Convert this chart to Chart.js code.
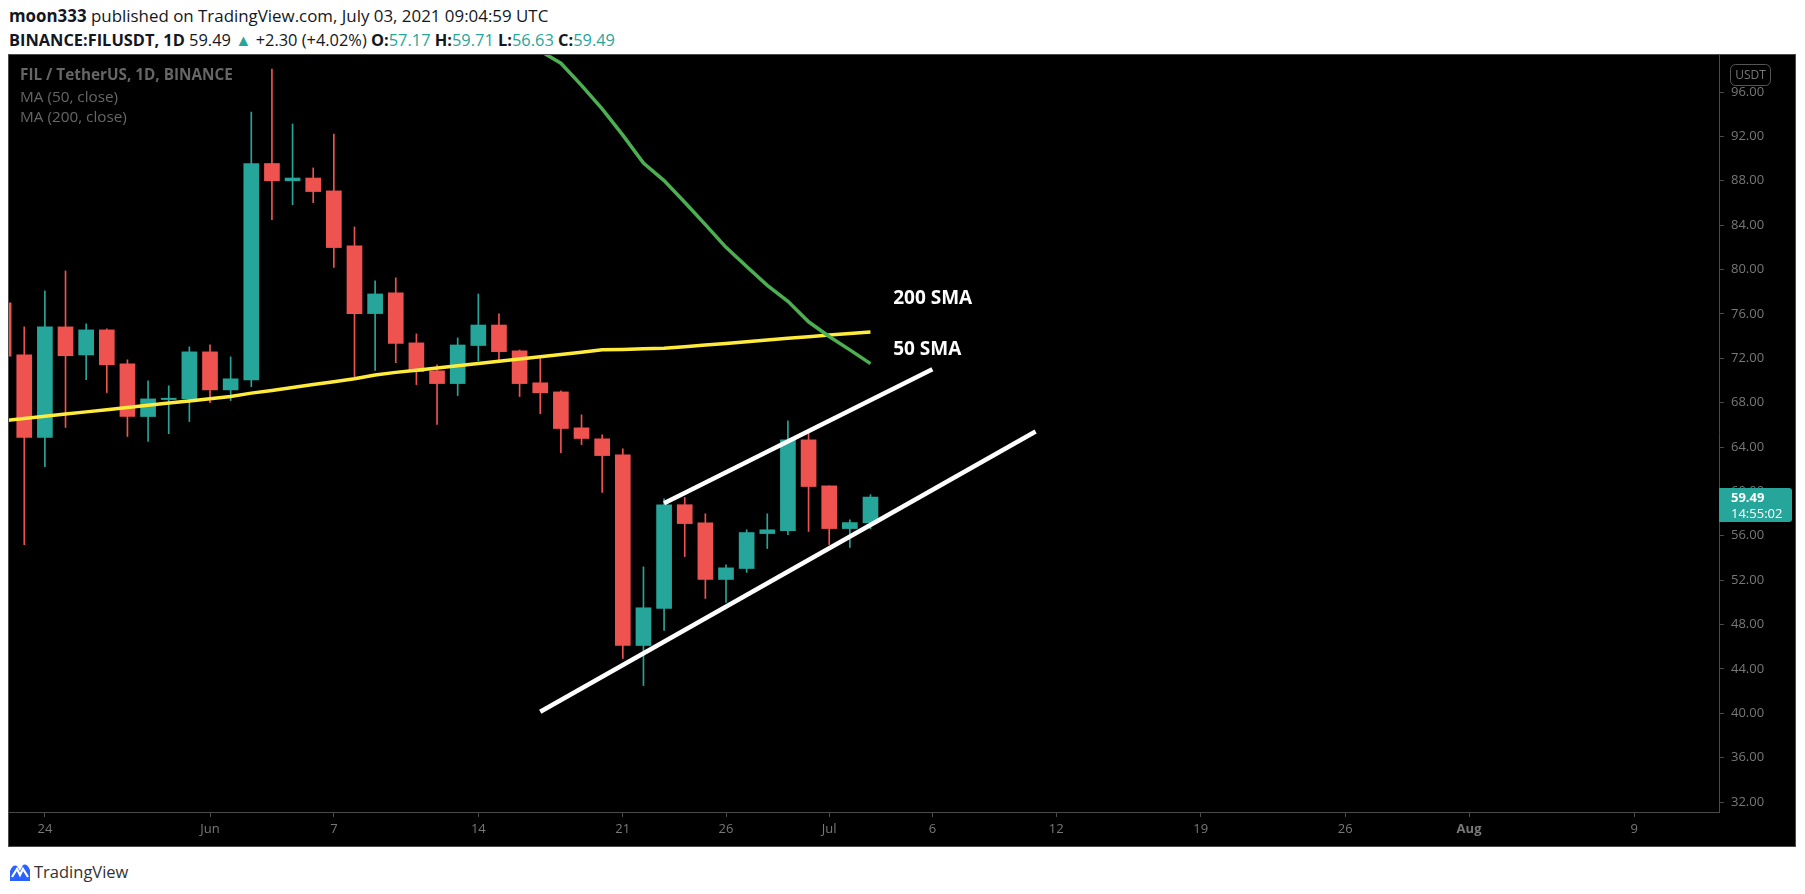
<!DOCTYPE html>
<html>
<head>
<meta charset="utf-8">
<script src="https://cdn.jsdelivr.net/npm/chart.js@4.4.1/dist/chart.umd.min.js"></script>
<style>
  body { margin: 0; background: #fff; width: 1805px; height: 894px; position: relative; overflow: hidden; font-family: 'Open Sans', sans-serif; }
  .hdr { position: absolute; left: 9px; color: #131722; white-space: nowrap; }
  .hdr b { font-weight: 700; }
  .up { color: #26a69a; }
  #wrap { position: absolute; left: 8px; top: 54px; width: 1788px; height: 793px; }
  #foot { position: absolute; left: 9px; top: 860px; display: flex; align-items: center; font-size: 16.5px; color: #333; }
</style>
</head>
<body>
<div class="hdr" style="top:4px;font-size:16.9px"><b>moon333</b> published on TradingView.com, July 03, 2021 09:04:59 UTC</div>
<div class="hdr" style="top:28px;font-size:16.4px"><b>BINANCE:FILUSDT, 1D</b> 59.49 <span class="up">&#9650;</span> +2.30 (+4.02%) <b>O:</b><span class="up">57.17</span> <b>H:</b><span class="up">59.71</span> <b>L:</b><span class="up">56.63</span> <b>C:</b><span class="up">59.49</span></div>
<div id="wrap"><canvas id="chart" width="1788" height="793"></canvas></div>
<div id="foot">
  <svg width="22" height="20" viewBox="0 0 22 20"><path d="M1 19 L1 9 Q4 2 8 4 L11 9 L14 3 Q18 1 21 8 L21 19 Z" fill="#2962ff"/><path d="M3 15 L8 7 L11 13 L14 7 L19 15" stroke="#fff" stroke-width="2.2" fill="none"/></svg>
  <span style="margin-left:3px">TradingView</span>
</div>
<script>
// days counted from Jun 1 2021
const days = [-10, -9, -8, -7, -6, -5, -4, -3, -2, -1, 0, 1, 2, 3, 4, 5, 6, 7, 8, 9, 10,
  11, 12, 13, 14, 15, 16, 17, 18, 19, 20, 21, 22, 23, 24, 25, 26, 27, 28, 29, 30, 31, 32];
const opens = [77.0, 72.31, 64.86, 74.83, 72.3, 74.56, 71.5, 66.75, 68.28, 68.34, 72.58, 69.15, 70.06, 89.56, 88.0, 88.25, 87.09, 82.13, 76.03, 77.9, 73.39,
  70.87, 69.72, 73.15, 75.0, 72.67, 69.79, 68.97, 65.73, 64.74, 63.3, 46.11, 49.45, 58.8, 57.17, 52.06, 53.05, 56.2, 56.47, 64.65, 60.5, 56.65, 57.17];
const highs = [77.8, 74.83, 78.08, 79.88, 75.1, 74.65, 71.86, 69.97, 69.52, 73.03, 73.21, 72.13, 94.2, 98.08, 93.12, 89.16, 92.2, 83.84, 78.98, 79.25, 74.2,
  71.4, 73.84, 77.8, 76.0, 72.75, 72.2, 69.06, 66.9, 65.1, 63.84, 53.2, 59.33, 59.45, 57.98, 53.38, 56.54, 57.98, 66.36, 65.46, 60.5, 57.44, 59.71];
const lows = [70.5, 55.2, 62.24, 65.76, 70.08, 68.91, 64.95, 64.5, 65.2, 66.3, 68.0, 68.19, 69.45, 84.5, 85.85, 86.03, 80.18, 70.35, 70.9, 71.6, 69.63,
  66.03, 68.64, 71.77, 71.6, 68.55, 67.0, 63.5, 64.22, 59.9, 44.94, 42.5, 47.46, 54.13, 50.35, 49.99, 52.7, 54.85, 56.11, 56.39, 55.21, 54.94, 56.63];
const closes = [72.2, 64.86, 74.83, 72.23, 74.56, 71.42, 66.75, 68.34, 68.4, 72.58, 69.15, 70.15, 89.56, 88.0, 88.25, 87.03, 81.98, 76.03, 77.8, 73.33, 70.8,
  69.72, 73.2, 75.0, 72.6, 69.72, 68.9, 65.67, 64.77, 63.23, 46.11, 49.51, 58.8, 57.1, 52.06, 53.11, 56.29, 56.54, 64.65, 60.44, 56.65, 57.19, 59.49];

const ma200 = [66.38, 66.57, 66.77, 66.97, 67.17, 67.37, 67.57, 67.77, 67.97, 68.16, 68.36, 68.56, 68.86, 69.1, 69.37, 69.63, 69.89, 70.15, 70.5, 70.73, 70.93,
  71.13, 71.33, 71.53, 71.73, 71.93, 72.13, 72.34, 72.55, 72.76, 72.8, 72.85, 72.9, 73.03, 73.19, 73.34, 73.5, 73.65, 73.8, 73.95, 74.1, 74.24, 74.38];
const ma50Days = [16, 17, 18, 19, 20, 21, 22, 23, 24, 25, 26, 27, 28, 29, 30, 31, 32];
const ma50 = [99.7, 98.6, 96.6, 94.48, 92.12, 89.6, 88.02, 86.06, 84.05, 82.0, 80.27, 78.57, 77.14, 75.29, 73.97, 72.76, 71.52];

// hand drawn channel
const upperLine = [[22, 58.94], [35, 71.02]];
const lowerLine = [[16, 40.14], [40, 65.4]];
const notes = [['200 SMA', 33.1, 77.42], ['50 SMA', 33.1, 72.82]];

const tickDays = [-8, 0, 6, 13, 20, 25, 30, 35, 41, 48, 55, 61, 69];
const tickLabels = ['24', 'Jun', '7', '14', '21', '26', 'Jul', '6', '12', '19', '26', 'Aug', '9'];
const priceTicks = [32, 36, 40, 44, 48, 52, 56, 60, 64, 68, 72, 76, 80, 84, 88, 92, 96];
const lastClose = 59.49;

const UP = '#26a69a', DOWN = '#ef5350', AXIS = '#787878', LINE = '#4a4a4a';
const candleColors = opens.map((o, i) => closes[i] >= o ? UP : DOWN);

const tvPlugin = {
  id: 'tv',
  beforeDraw(chart) {
    const ctx = chart.ctx;
    ctx.save();
    ctx.fillStyle = '#000';
    ctx.fillRect(0, 0, chart.width, chart.height);
    ctx.restore();
  },
  afterDatasetsDraw(chart) {
    const ctx = chart.ctx, xs = chart.scales.x, ys = chart.scales.y;
    ctx.save();
    ctx.fillStyle = '#fff';
    ctx.font = 'bold 19px "Open Sans"';
    ctx.textBaseline = 'middle';
    notes.forEach(n => ctx.fillText(n[0], xs.getPixelForValue(n[1]), ys.getPixelForValue(n[2])));
    ctx.restore();
  },
  afterDraw(chart) {
    const ctx = chart.ctx, ys = chart.scales.y, area = chart.chartArea;
    ctx.save();
    // legend
    ctx.textBaseline = 'middle';
    ctx.fillStyle = '#666';
    ctx.font = 'bold 15.3px "Open Sans"';
    ctx.fillText('FIL / TetherUS, 1D, BINANCE', 12, 22);
    ctx.font = '15.3px "Open Sans"';
    ctx.fillText('MA (50, close)', 12, 44);
    ctx.fillText('MA (200, close)', 12, 64);
    // currency box
    ctx.strokeStyle = '#555';
    ctx.lineWidth = 1;
    ctx.beginPath();
    ctx.roundRect(area.right + 11.5, 10.5, 40, 21, 5);
    ctx.stroke();
    ctx.fillStyle = AXIS;
    ctx.font = '12px "Open Sans"';
    ctx.textAlign = 'center';
    ctx.fillText('USDT', area.right + 31.5, 21.5);
    // last price label
    const py = ys.getPixelForValue(lastClose);
    ctx.fillStyle = UP;
    ctx.beginPath();
    ctx.roundRect(area.right, py - 9, 73, 34, [0, 3, 3, 0]);
    ctx.fill();
    ctx.fillStyle = '#fff';
    ctx.textAlign = 'left';
    ctx.font = 'bold 13px "Open Sans"';
    ctx.fillText(lastClose.toFixed(2), area.right + 12, py + 1);
    ctx.font = '13px "Open Sans"';
    ctx.fillText('14:55:02', area.right + 12, py + 17);
    // frame
    ctx.strokeStyle = LINE;
    ctx.strokeRect(0.5, 0.5, chart.width - 1, chart.height - 1);
    ctx.restore();
  }
};

const bodies = days.map((d, i) => ({ x: d, y: [opens[i], closes[i]] }));
const wicks = days.map((d, i) => ({ x: d, y: [lows[i], highs[i]] }));

new Chart(document.getElementById('chart'), {
  type: 'bar',
  data: {
    datasets: [
      { type: 'line', data: upperLine.map(p => ({ x: p[0], y: p[1] })), borderColor: '#fff', borderWidth: 4.5, pointRadius: 0, order: 1 },
      { type: 'line', data: lowerLine.map(p => ({ x: p[0], y: p[1] })), borderColor: '#fff', borderWidth: 4.5, pointRadius: 0, order: 1 },
      { type: 'line', data: ma50Days.map((d, i) => ({ x: d, y: ma50[i] })), borderColor: '#4caf50', borderWidth: 3.5, pointRadius: 0, order: 2 },
      { type: 'line', data: days.map((d, i) => ({ x: d, y: ma200[i] })), borderColor: '#ffeb3b', borderWidth: 3.5, pointRadius: 0, order: 3 },
      { data: bodies, backgroundColor: candleColors, barThickness: 15, minBarLength: 1, grouped: false, order: 4 },
      { data: wicks, backgroundColor: candleColors, barThickness: 1, grouped: false, order: 5 }
    ]
  },
  options: {
    responsive: false,
    animation: false,
    events: [],
    layout: { padding: 0 },
    plugins: { legend: { display: false }, tooltip: { enabled: false } },
    scales: {
      x: {
        type: 'linear',
        offset: false,
        min: -9.787,
        max: 73.11,
        afterBuildTicks(s) { s.ticks = tickDays.map(v => ({ value: v })); },
        afterFit(s) { s.height = 35; s.paddingLeft = 0; s.paddingRight = 0; },
        ticks: {
          autoSkip: false, maxRotation: 0, padding: 4, color: AXIS,
          callback: (v, i) => tickLabels[i],
          font: c => ({ family: 'Open Sans', size: 13, weight: tickLabels[c.index] === 'Aug' ? 'bold' : 'normal' })
        },
        grid: { drawOnChartArea: false, tickLength: 5, color: LINE, offset: false },
        border: { color: LINE }
      },
      y: {
        position: 'right',
        min: 31.1,
        max: 99.43,
        afterBuildTicks(s) { s.ticks = priceTicks.map(v => ({ value: v })); },
        afterFit(s) { s.width = 77; s.paddingTop = 0; s.paddingBottom = 0; },
        ticks: { padding: 7, color: AXIS, font: { family: 'Open Sans', size: 13 }, callback: v => v.toFixed(2) },
        grid: { drawOnChartArea: false, tickLength: 5, color: LINE },
        border: { color: LINE }
      }
    }
  },
  plugins: [tvPlugin]
});
</script>
</body>
</html>
